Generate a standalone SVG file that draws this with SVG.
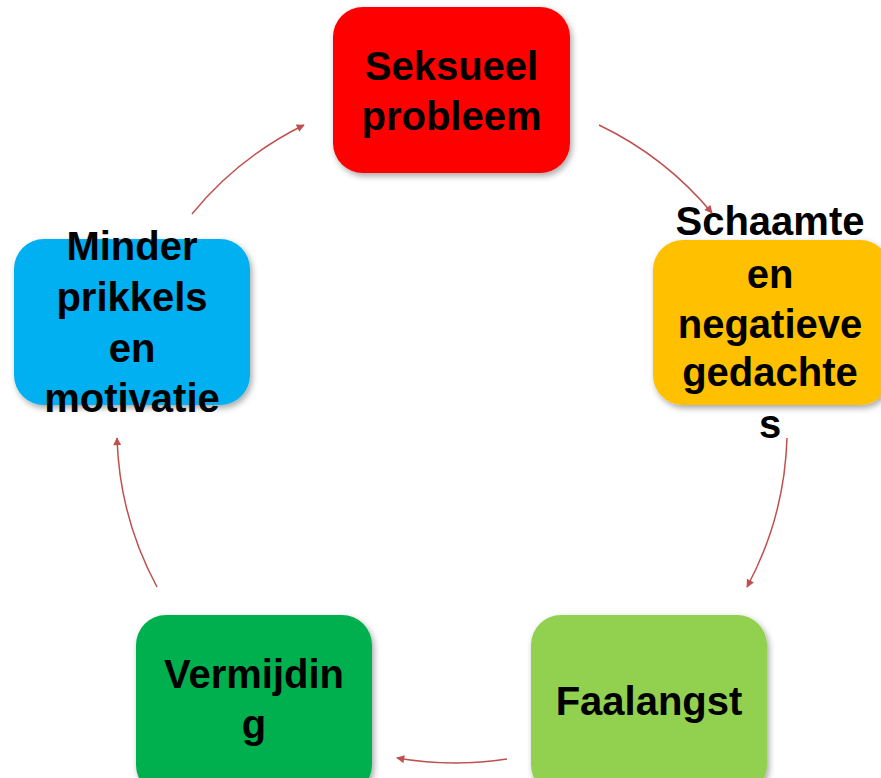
<svg xmlns="http://www.w3.org/2000/svg" width="881" height="778" viewBox="0 0 881 778">
<style>
.box{filter:url(#sh);}
.t{font-family:"Liberation Sans",Arial,sans-serif;font-weight:bold;font-size:40px;fill:#000;text-anchor:middle;}
.c{fill:none;stroke:#C0504D;stroke-width:1.5;marker-end:url(#ah);}
</style>
<defs>
<filter id="sh" x="-20%" y="-20%" width="140%" height="140%">
<feDropShadow dx="2" dy="3" stdDeviation="3" flood-color="#000" flood-opacity="0.35"/>
</filter>
<marker id="ah" viewBox="0 0 10 10" refX="9" refY="5" markerWidth="9" markerHeight="8" markerUnits="userSpaceOnUse" orient="auto">
<path d="M0,0 L10,5 L0,10 Z" fill="#C0504D"/>
</marker>
</defs>
<rect width="881" height="778" fill="#fff"/>
<g id="connectors">
<path class="c" d="M599,125 A336,336 0 0 1 712,213"/>
<path class="c" d="M787,438 A336,336 0 0 1 747,587"/>
<path class="c" d="M507,759 A336,336 0 0 1 397,758"/>
<path class="c" d="M157,587 A336,336 0 0 1 117,438"/>
<path class="c" d="M192,214 A336,336 0 0 1 304,125"/>
</g>
<g id="seksueel">
<rect class="box" x="333" y="7" width="237" height="166" rx="30" fill="#FF0000"/>
<text class="t" x="451.5" y="80">Seksueel</text>
<text class="t" x="451.5" y="130">probleem</text>
</g>
<g id="schaamte">
<rect class="box" x="653" y="240" width="237" height="165" rx="30" fill="#FFC000"/>
<text class="t" x="770" y="235">Schaamte</text>
<text class="t" x="770" y="288">en</text>
<text class="t" x="770" y="338">negatieve</text>
<text class="t" x="770" y="386">gedachte</text>
<text class="t" x="770" y="438">s</text>
</g>
<g id="faalangst">
<rect class="box" x="531" y="615" width="236" height="180" rx="30" fill="#92D050"/>
<text class="t" x="649" y="715">Faalangst</text>
</g>
<g id="vermijding">
<rect class="box" x="136" y="615" width="236" height="180" rx="30" fill="#00B050"/>
<text class="t" x="254" y="688">Vermijdin</text>
<text class="t" x="254" y="738">g</text>
</g>
<g id="minder">
<rect class="box" x="14" y="239" width="236" height="166" rx="30" fill="#00B0F0"/>
<text class="t" x="132" y="260">Minder</text>
<text class="t" x="132" y="311">prikkels</text>
<text class="t" x="132" y="362">en</text>
<text class="t" x="132" y="412">motivatie</text>
</g>
</svg>
